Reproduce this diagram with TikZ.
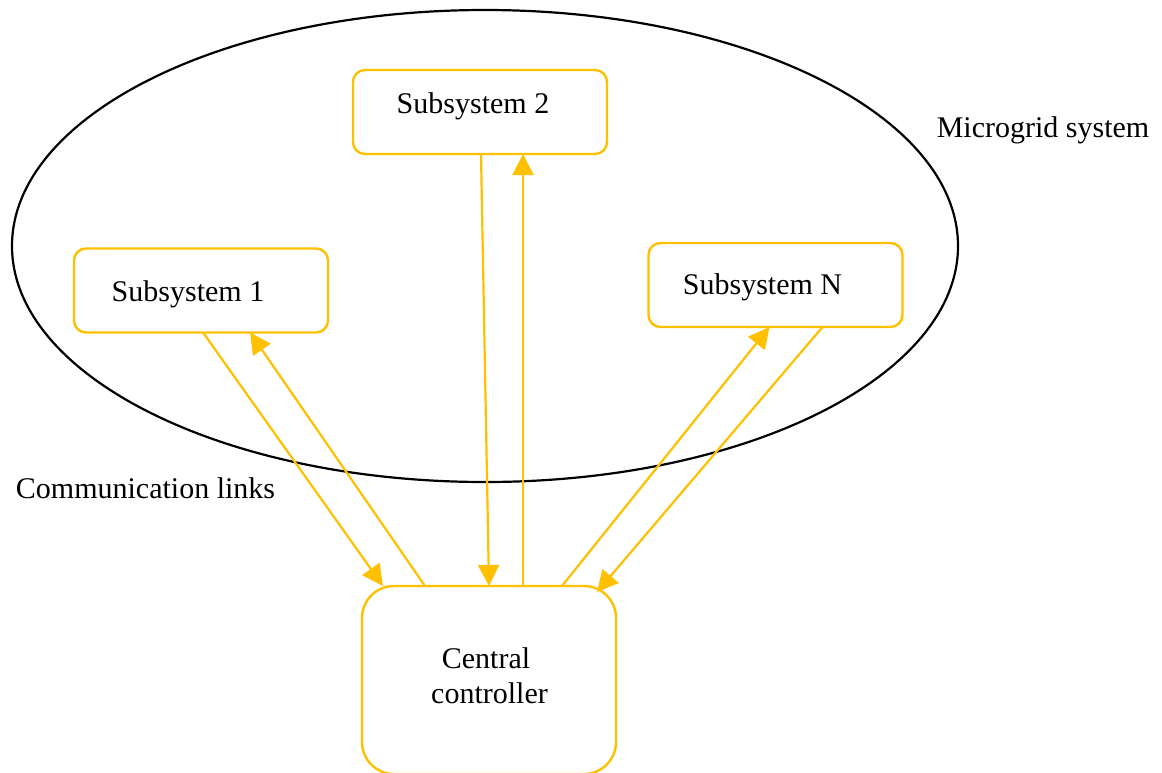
\documentclass[tikz,border=0pt]{standalone}
\usepackage{fontspec}
\setmainfont{Liberation Serif}
\usetikzlibrary{arrows.meta,calc,shapes.geometric}
\definecolor{linkcol}{HTML}{FFC000}
\tikzset{
  subbox/.style={draw=linkcol, line width=2.4pt, rounded corners=12pt,
    minimum width=254pt, minimum height=84pt, inner sep=0pt, outer sep=0pt},
  ctrlbox/.style={draw=linkcol, line width=2.4pt, rounded corners=32pt,
    minimum width=254pt, minimum height=188pt, inner sep=0pt, outer sep=0pt},
  link/.style={draw=linkcol, line width=2.2pt, -{Triangle[length=21pt,width=21pt]}},
  txt/.style={font=\fontsize{30}{36}\selectfont, anchor=base, inner sep=0pt},
}
\begin{document}
\begin{tikzpicture}[x=1pt,y=-1pt]
  \useasboundingbox (0,0) rectangle (1162,772);

  % microgrid boundary
  \node[draw, ellipse, line width=2.2pt, minimum width=946pt, minimum height=472pt,
        inner sep=0pt] (mg) at (485,246) {};

  % subsystems and controller
  \node[subbox] (s1) at (201,290.5) {};
  \node[subbox] (s2) at (480,112) {};
  \node[subbox] (sn) at (775.5,285) {};
  \node[ctrlbox] (cc) at (489,680) {};

  % labels
  \node[txt] (t1) at (188,301) {Subsystem 1};
  \node[txt] (t2) at (473,113) {Subsystem 2};
  \node[txt] (tn) at (762.5,294) {Subsystem N};
  \node[txt] (tc1) at (486,668) {Central};
  \node[txt] (tc2) at (489.5,703) {controller};
  \node[txt] (tmg) at (1043,137) {Microgrid system};
  \node[txt] (tcl) at (145.5,498) {Communication links};

  % communication links
  \draw[link] ($(s1.south)+(2,0)$) -- ($(cc.north west)+(21,0)$);
  \draw[link] ($(cc.north west)+(63,0)$) -- ($(s1.south)+(49,0)$);
  \draw[link] ($(s2.south)+(1,0)$) -- (cc.north);
  \draw[link] ($(cc.north)+(34,0)$) -- ($(s2.south)+(43,0)$);
  \draw[link] ($(cc.north)+(73,0)$) -- ($(sn.south)+(-6,0)$);
  \draw[link] ($(sn.south)+(47,0)$) -- ($(cc.north east)+(-19,6)$);
\end{tikzpicture}
\end{document}
